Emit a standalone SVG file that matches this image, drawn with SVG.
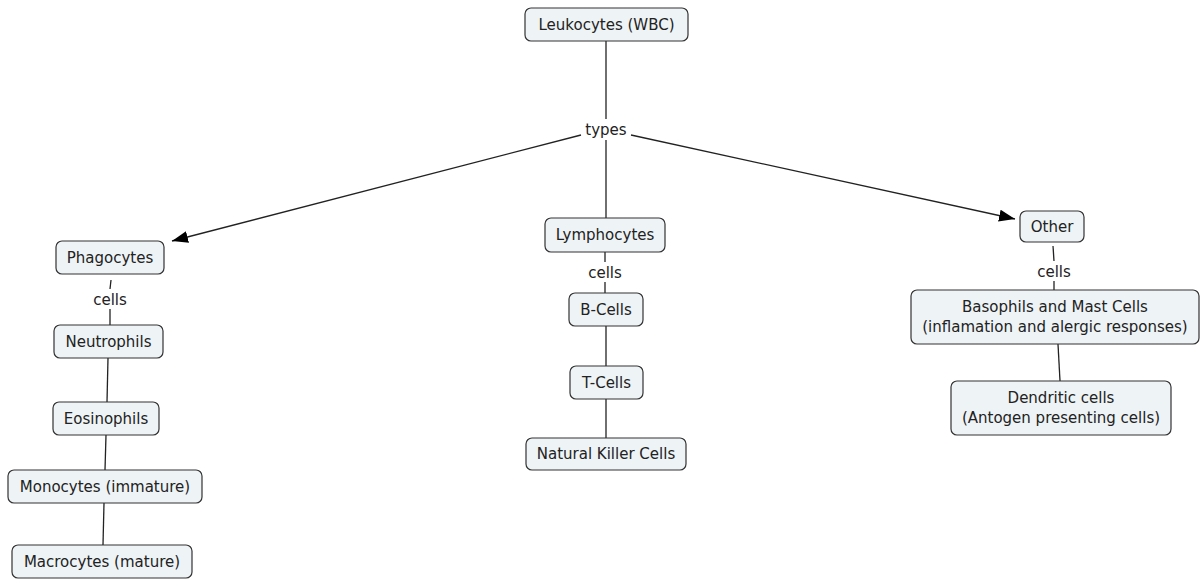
<svg xmlns="http://www.w3.org/2000/svg" width="1201" height="581" viewBox="0 0 1201 581">
<defs>
<marker id="arr" markerWidth="16" markerHeight="12" refX="16" refY="6" orient="auto" markerUnits="userSpaceOnUse">
<path d="M0,0 L16,6 L0,12 Z" fill="#000"/>
</marker>
<style>
.n rect{fill:#eef3f6;stroke:#333;stroke-width:1.2}
text{font-family:"DejaVu Sans",Verdana,sans-serif;font-size:15px;fill:#222;text-anchor:middle}
.c line{stroke:#222;stroke-width:1.3}
</style>
</defs>
<rect width="1201" height="581" fill="#fff"/>
<g class="c" id="connectors">
<line x1="606" y1="41" x2="606" y2="119"/>
<line x1="606" y1="140" x2="606" y2="218"/>
<line x1="581" y1="135" x2="172" y2="241" marker-end="url(#arr)"/>
<line x1="631" y1="135" x2="1015" y2="219" marker-end="url(#arr)"/>
<line x1="111" y1="280" x2="110" y2="289"/>
<line x1="110" y1="309" x2="110" y2="325"/>
<line x1="108" y1="358" x2="107" y2="402"/>
<line x1="106" y1="435" x2="105" y2="470"/>
<line x1="104" y1="503" x2="103" y2="545"/>
<line x1="605" y1="252" x2="605" y2="262"/>
<line x1="605" y1="282" x2="605" y2="293"/>
<line x1="606" y1="326" x2="606" y2="366"/>
<line x1="606" y1="399" x2="606" y2="438"/>
<line x1="1053" y1="246" x2="1054" y2="261"/>
<line x1="1054" y1="281" x2="1054" y2="290"/>
<line x1="1058" y1="344" x2="1060" y2="381"/>
</g>
<g id="lbl-types"><text x="606" y="135">types</text></g>
<g id="lbl-cells1"><text x="110" y="305">cells</text></g>
<g id="lbl-cells2"><text x="605" y="278">cells</text></g>
<g id="lbl-cells3"><text x="1054" y="277">cells</text></g>
<g class="n" id="leukocytes"><rect x="525" y="8" width="163" height="33" rx="6"/><text x="606.5" y="30">Leukocytes (WBC)</text></g>
<g class="n" id="phagocytes"><rect x="56" y="241" width="108" height="33" rx="6"/><text x="110" y="263">Phagocytes</text></g>
<g class="n" id="lymphocytes"><rect x="545" y="218" width="120" height="34" rx="6"/><text x="605" y="240">Lymphocytes</text></g>
<g class="n" id="other"><rect x="1020" y="211" width="64" height="31" rx="6"/><text x="1052" y="232">Other</text></g>
<g class="n" id="neutrophils"><rect x="54" y="325" width="109" height="33" rx="6"/><text x="108.5" y="347">Neutrophils</text></g>
<g class="n" id="eosinophils"><rect x="53" y="402" width="106" height="33" rx="6"/><text x="106" y="424">Eosinophils</text></g>
<g class="n" id="monocytes"><rect x="8" y="470" width="194" height="33" rx="6"/><text x="105" y="492">Monocytes (immature)</text></g>
<g class="n" id="macrocytes"><rect x="12" y="545" width="180" height="33" rx="6"/><text x="102" y="567">Macrocytes (mature)</text></g>
<g class="n" id="bcells"><rect x="569" y="293" width="74" height="33" rx="6"/><text x="606" y="315">B-Cells</text></g>
<g class="n" id="tcells"><rect x="570" y="366" width="73" height="33" rx="6"/><text x="606.5" y="388">T-Cells</text></g>
<g class="n" id="nkcells"><rect x="526" y="438" width="160" height="32" rx="6"/><text x="606" y="459">Natural Killer Cells</text></g>
<g class="n" id="basophils"><rect x="911" y="290" width="288" height="54" rx="6"/><text x="1055" y="312">Basophils and Mast Cells</text><text x="1055" y="332">(inflamation and alergic responses)</text></g>
<g class="n" id="dendritic"><rect x="951" y="381" width="220" height="54" rx="6"/><text x="1061" y="403">Dendritic cells</text><text x="1061" y="423">(Antogen presenting cells)</text></g>
</svg>
